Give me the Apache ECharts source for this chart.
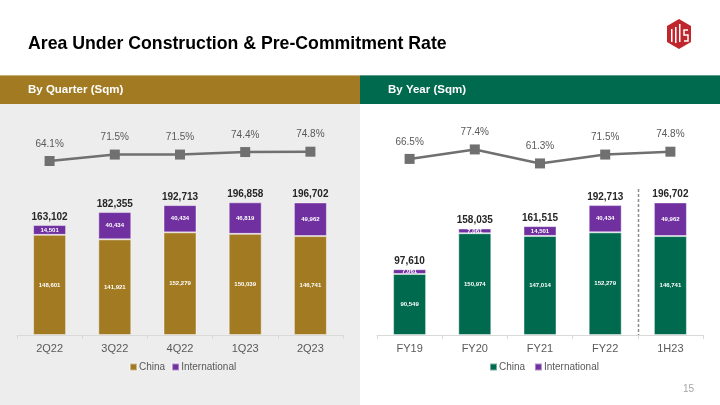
<!DOCTYPE html>
<html><head><meta charset="utf-8">
<script src="https://cdn.jsdelivr.net/npm/echarts@6/dist/echarts.min.js"></script>
<style>html,body{margin:0;padding:0;background:#fff}#c{width:720px;height:405px}</style>
</head><body><div id="c"></div>
<script>
const quarterCats = ['2Q22','3Q22','4Q22','1Q23','2Q23'];
const quarterChina = [148601,141921,152279,150039,146741];
const quarterIntl = [14501,40434,40434,46819,49962];
const quarterTotal = [163102,182355,192713,196858,196702];
const quarterRate = [64.1,71.5,71.5,74.4,74.8];

const yearCats = ['FY19','FY20','FY21','FY22','1H23'];
const yearChina = [90549,150974,147014,152279,146741];
const yearIntl = [7061,7061,14501,40434,49962];
const yearTotal = [97610,158035,161515,192713,196702];
const yearRate = [66.5,77.4,61.3,71.5,74.8];

const GOLD = '#A27A21', GREEN = '#006A4E', PURPLE = '#7030A0', LINE = '#707070';
const FONT = 'Liberation Sans, Arial, sans-serif';
const fmt = v => v.toLocaleString('en-US');

const chart = echarts.init(document.getElementById('c'), null, {renderer:'canvas'});

function xAx(idx, cats){
  return {type:'category', gridIndex:idx, data:cats, boundaryGap:true,
    axisLine:{lineStyle:{color:'#D9D9D9'}},
    axisTick:{show:true, length:4, lineStyle:{color:'#D9D9D9'}},
    axisLabel:{color:'#595959', fontSize:11, fontFamily:FONT, margin:8}};
}
function yBar(idx){ return {type:'value', gridIndex:idx, min:0, max:326400, show:false, splitLine:{show:false}}; }
function yLine(idx){ return {type:'value', gridIndex:idx, min:-136, max:117, show:false, splitLine:{show:false}}; }

function barSeries(name, data, color, xi, yi){
  return {name, type:'bar', stack:'s'+xi, xAxisIndex:xi, yAxisIndex:yi, data, barWidth:33,
    itemStyle:{color, borderColor:'rgba(255,255,255,0.45)', borderWidth:1},
    label:{show:true, position:'inside', color:'#fff', fontSize:6, fontWeight:'bold', fontFamily:FONT,
      formatter:p=>fmt(p.value)}};
}
function totalSeries(totals, xi, yi){
  return {name:'total', type:'bar', stack:'s'+xi, xAxisIndex:xi, yAxisIndex:yi, data:totals.map(()=>0), barWidth:33,
    itemStyle:{color:'transparent'}, silent:true, legendHoverLink:false,
    label:{show:true, position:'top', distance:3, color:'#262626', fontSize:10, fontWeight:'bold', fontFamily:FONT,
      formatter:p=>fmt(totals[p.dataIndex])}};
}
function lineSeries(data, xi, yi){
  return {name:'rate', type:'line', xAxisIndex:xi, yAxisIndex:yi, data, symbol:'rect', symbolSize:10,
    lineStyle:{color:LINE, width:2.5}, itemStyle:{color:LINE},
    label:{show:true, position:'top', distance:7, color:'#595959', fontSize:10, fontFamily:FONT,
      formatter:p=>p.value.toFixed(1)+'%'}};
}

const option = {
  animation:false,
  graphic:[
    {type:'rect', shape:{x:0,y:104,width:360,height:301}, style:{fill:'#EDEDED'}, z:-10},
    {type:'rect', shape:{x:0,y:75,width:360,height:29}, style:{fill:GOLD}},
    {type:'rect', shape:{x:360,y:75,width:360,height:29}, style:{fill:GREEN}},
    {type:'rect', shape:{x:0,y:75,width:360,height:1}, style:{fill:'#C9B07A'}},
    {type:'rect', shape:{x:360,y:75,width:360,height:1}, style:{fill:'#5E9C88'}},
    {type:'text', left:28, top:35, style:{text:'Area Under Construction & Pre-Commitment Rate', font:'bold 17.7px '+FONT, fill:'#000'}},
    {type:'text', left:28, top:84, style:{text:'By Quarter (Sqm)', font:'bold 11.5px '+FONT, fill:'#fff'}},
    {type:'text', left:388, top:84, style:{text:'By Year (Sqm)', font:'bold 11.5px '+FONT, fill:'#fff'}},
    {type:'text', left:683, top:384, style:{text:'15', font:'10px '+FONT, fill:'#A6A6A6'}},
    {type:'polygon', shape:{points:[[679,19],[691,26],[691,42],[679,49],[667,42],[667,26]]}, style:{fill:'#C0272D'}},
    {type:'rect', shape:{x:671,y:29,width:1.5,height:13}, style:{fill:'#fff'}},
    {type:'rect', shape:{x:675,y:27,width:1.5,height:16}, style:{fill:'#fff'}},
    {type:'rect', shape:{x:679,y:24,width:1.5,height:18}, style:{fill:'#fff'}},
    {type:'polyline', shape:{points:[[688,30],[684,30],[684,35],[688,35],[688,41],[684,41]]}, style:{stroke:'#fff', lineWidth:1.5, fill:null}}
  ],
  grid:[
    {left:17, width:326, top:115, bottom:70},
    {left:377, width:326, top:115, bottom:70}
  ],
  legend:[
    {data:[{name:'China', itemStyle:{color:GOLD}}, {name:'International', itemStyle:{color:PURPLE}}],
     top:357, itemWidth:7, itemHeight:7, itemGap:6, icon:'rect', left:124,
     textStyle:{color:'#595959', fontSize:10, fontFamily:FONT, padding:[0,0,0,-3]}},
    {data:[{name:'China ', itemStyle:{color:GREEN}}, {name:'International ', itemStyle:{color:PURPLE}}],
     top:357, itemWidth:7, itemHeight:7, itemGap:6, icon:'rect', left:484,
     textStyle:{color:'#595959', fontSize:10, fontFamily:FONT, padding:[0,0,0,-3]}}
  ],
  xAxis:[xAx(0, quarterCats), xAx(1, yearCats)],
  yAxis:[yBar(0), yLine(0), yBar(1), yLine(1)],
  series:[
    barSeries('China', quarterChina, GOLD, 0, 0),
    barSeries('International', quarterIntl, PURPLE, 0, 0),
    totalSeries(quarterTotal, 0, 0),
    lineSeries(quarterRate, 0, 1),
    barSeries('China ', yearChina, GREEN, 1, 2),
    barSeries('International ', yearIntl, PURPLE, 1, 2),
    totalSeries(yearTotal, 1, 2),
    lineSeries(yearRate, 1, 3)
  ]
};
chart.setOption(option);

const xa = chart.convertToPixel({xAxisIndex:1}, 'FY22');
const xb = chart.convertToPixel({xAxisIndex:1}, '1H23');
const xm = Math.round((xa + xb) / 2) + 0.5;
const yBase = chart.convertToPixel({yAxisIndex:2}, 0);
const g = option.graphic.slice();
g.push({type:'line', shape:{x1:xm, y1:189, x2:xm, y2:yBase}, style:{stroke:'#8C8C8C', lineWidth:1.5, lineDash:[3,2]}});
chart.setOption({graphic:g});
</script>
</body></html>
